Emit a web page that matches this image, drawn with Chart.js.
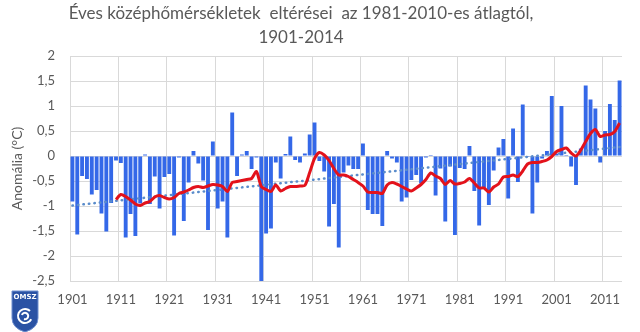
<!DOCTYPE html>
<html lang="hu">
<head>
<meta charset="utf-8">
<title>Éves középhőmérsékletek</title>
<script src="https://cdn.jsdelivr.net/npm/chart.js@4/dist/chart.umd.min.js"></script>
<style>
  html, body { margin: 0; padding: 0; background: #fff; }
  #wrap { width: 640px; height: 332px; position: relative; }
</style>
</head>
<body>
<div id="wrap"><canvas id="chart_main"></canvas></div>
<script>
"use strict";

// --- adatok -----------------------------------------------------------
const first_Year = 1901,
      last_Year  = 2014;

const years = [];
for (let y = first_Year; y <= last_Year; y++) years.push(String(y));

// éves anomália (°C), 1901-2014
const anomaly = [
  -0.91, -1.57, -0.40, -0.46, -0.77, -0.68, -1.15, -1.51, -0.94, -0.09, // 1901-1910
  -0.14, -1.63, -1.16, -1.60, -0.95,  0.03, -0.96, -0.41, -1.05, -0.42, // 1911-1920
  -0.36, -1.59, -0.03, -1.30, -0.53,  0.10, -0.15, -0.49, -1.48,  0.29, // 1921-1930
  -1.05, -0.91, -1.63,  0.87, -0.40,  0.03,  0.10, -0.26, -0.03, -2.53, // 1931-1940
  -1.55, -1.45, -0.13, -0.45,  0.04,  0.39, -0.08, -0.13,  0.05,  0.43, // 1941-1950
   0.67, -0.10, -0.31, -1.41, -0.96, -1.83, -0.33, -0.19, -0.26, -0.26, // 1951-1960
   0.25, -1.08, -1.16, -1.16, -1.40,  0.10, -0.05, -0.13, -0.91, -0.83, // 1961-1970
  -0.48, -0.38, -0.55, -0.03,  0.02, -0.79, -0.25, -1.31, -0.21, -1.58, // 1971-1980
  -0.24, -0.26,  0.20, -0.70, -1.39, -0.63, -0.98, -0.29,  0.17,  0.34, // 1981-1990
  -0.85,  0.55, -0.52,  1.03, -0.02, -1.15, -0.53, -0.05,  0.10,  1.20, // 1991-2000
   0.05,  1.00,  0.02, -0.21, -0.58,  0.15,  1.41,  1.13,  0.95, -0.13, // 2001-2010
   0.50,  1.04,  0.72,  1.51                                            // 2011-2014
];

// piros görbe (10 éves mozgó átlag), 1910-től
const ma_Start = 1910;
const moving_Avg = [
  -0.87, -0.77, -0.81, -0.88, -0.96, -0.99, -0.94, -0.91, -0.82, -0.79, // 1910-1919
  -0.83, -0.86, -0.83, -0.75, -0.72, -0.68, -0.63, -0.61, -0.63, -0.60, // 1920-1929
  -0.57, -0.58, -0.61, -0.71, -0.53, -0.51, -0.49, -0.47, -0.45, -0.31, // 1930-1939
  -0.61, -0.67, -0.71, -0.58, -0.70, -0.65, -0.61, -0.61, -0.60, -0.59, // 1940-1949
  -0.33, -0.05,  0.07,  0.02, -0.09, -0.25, -0.38, -0.38, -0.41, -0.47, // 1950-1959
  -0.53, -0.60, -0.72, -0.73, -0.73, -0.75, -0.58, -0.53, -0.56, -0.61, // 1960-1969
  -0.66, -0.70, -0.64, -0.57, -0.47, -0.34, -0.40, -0.45, -0.57, -0.49, // 1970-1979
  -0.56, -0.55, -0.52, -0.45, -0.54, -0.64, -0.64, -0.72, -0.62, -0.56, // 1980-1989
  -0.42, -0.41, -0.38, -0.41, -0.30, -0.16, -0.13, -0.13, -0.11, -0.08, // 1990-1999
  -0.01,  0.09,  0.13,  0.16,  0.06,  0.00,  0.12,  0.29,  0.45,  0.53, // 2000-2009
   0.39,  0.42,  0.43,  0.49,  0.66                                     // 2010-2014
];

// pontozott lineáris trend: két végpont
const trend_Years  = ['1901', '2014'],
      trend_Values = [-0.99, 0.18];

// tengely
const y_Min = -2.5, y_Max = 2, y_Step = 0.5;
const x_Label_Every = 10;

// --- színek, betűk ------------------------------------------------------
const col_Bar   = '#3468e8',
      col_Red   = '#e3121b',
      col_Trend = '#5a8ccb',
      col_Grid  = '#d9d9d9',
      col_Text  = '#595959';
const font_Fam  = 'Lato, "Liberation Sans", sans-serif';

// --- sorozatok felépítése ----------------------------------------------
const ma_Data = years.map(y => {
  const k = parseInt(y, 10) - ma_Start;
  return k >= 0 && k < moving_Avg.length ? moving_Avg[k] : null;
});
const trend_Data = years.map(y => {
  const k = trend_Years.indexOf(y);
  return k >= 0 ? trend_Values[k] : null;
});

// cím + logó
const title_Plugin = {
  id: 'title_Plugin',
  afterDraw(chart) {
    const c = chart.ctx;
    c.save();
    c.fillStyle = col_Text;
    c.textAlign = 'center';
    c.textBaseline = 'middle';
    c.font = '17px ' + font_Fam;
    c.fillText('Éves középhőmérsékletek  eltérései  az 1981-2010-es átlagtól,', 301, 14);
    c.fillText('1901-2014', 301, 38);
    c.restore();
  }
};

const logo_Plugin = {
  id: 'logo_Plugin',
  afterDraw(chart) {
    const c = chart.ctx;
    c.save();
    // pajzs
    c.beginPath();
    c.moveTo(12, 291);
    c.lineTo(38, 291);
    c.lineTo(38, 318);
    c.quadraticCurveTo(38, 328, 25, 332);
    c.quadraticCurveTo(12, 328, 12, 318);
    c.closePath();
    c.fillStyle = '#2a52a4';
    c.fill();
    c.strokeStyle = '#6f8fcf';
    c.lineWidth = 1;
    c.stroke();
    // felirat
    c.fillStyle = '#fff';
    c.font = 'bold 7px "DejaVu Sans", sans-serif';
    c.textAlign = 'center';
    c.textBaseline = 'middle';
    c.fillText('OMSZ', 25, 297);
    // örvény
    c.strokeStyle = '#fff';
    c.lineWidth = 2;
    c.beginPath();
    c.arc(25, 316, 7, Math.PI * 0.15, Math.PI * 1.75);
    c.stroke();
    c.beginPath();
    c.arc(25, 316, 3.2, Math.PI * 1.1, Math.PI * 2.6);
    c.stroke();
    c.restore();
  }
};

// --- rajz ---------------------------------------------------------------
var ctx = document.getElementById('chart_main');
let chart = new Chart(ctx, {
  type: 'bar',
  data: {
    labels: years,
    datasets: [
      {
        type: 'line',
        label: '10 éves átlag',
        data: ma_Data,
        borderColor: col_Red,
        borderWidth: 3,
        pointRadius: 0,
        tension: 0.25,
        order: 0,
      },
      {
        type: 'line',
        label: 'trend',
        data: trend_Data,
        borderColor: col_Trend,
        borderWidth: 2.5,
        borderDash: [0.5, 5],
        borderCapStyle: 'round',
        pointRadius: 0,
        spanGaps: true,
        order: 1,
      },
      {
        label: 'anomália',
        data: anomaly,
        backgroundColor: col_Bar,
        barPercentage: 0.8,
        categoryPercentage: 1.0,
        order: 2,
      },
    ],
  },
  options: {
    responsive: true,
    maintainAspectRatio: false,
    animation: false,
    layout: { padding: { top: 56, right: 18, left: 0, bottom: 0 } },
    plugins: {
      legend: { display: false },
      title: { display: false },
      tooltip: { enabled: false },
    },
    scales: {
      x: {
        offset: true,
        grid: {
          offset: true,
          drawTicks: false,
          color: c => (c.index % x_Label_Every === 0 ? col_Grid : 'transparent'),
        },
        border: { display: false },
        ticks: {
          autoSkip: false,
          maxRotation: 0,
          padding: 11,
          color: col_Text,
          font: { family: font_Fam, size: 13 },
          callback: function (v, i) { return i % x_Label_Every === 0 ? this.getLabelForValue(v) : ''; },
        },
        afterFit: s => { s.height = 51; },
      },
      y: {
        min: y_Min,
        max: y_Max,
        grid: { color: col_Grid, drawTicks: false },
        border: { display: false },
        ticks: {
          stepSize: y_Step,
          padding: 15,
          color: col_Text,
          font: { family: font_Fam, size: 13 },
          callback: v => String(v).replace('.', ','),
        },
        title: {
          display: true,
          text: 'Anomália (°C)',
          color: col_Text,
          font: { family: font_Fam, size: 14 },
          padding: { top: 9, bottom: 0 },
        },
        afterFit: s => { s.width = 70; },
      },
    },
  },
  plugins: [title_Plugin, logo_Plugin],
});
</script>
</body>
</html>
